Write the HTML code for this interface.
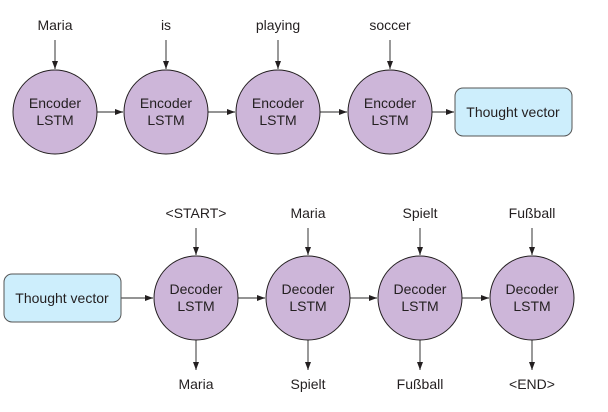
<!DOCTYPE html><html><head><style>body{margin:0;background:#fff}</style></head><body>
<svg width="608" height="407" xmlns="http://www.w3.org/2000/svg" font-family="Liberation Sans, Arial, sans-serif" font-size="14" fill="#231f20">
<defs><marker id="a" markerWidth="8" markerHeight="6" refX="8" refY="3" orient="auto" markerUnits="userSpaceOnUse"><path d="M0,0 L8,3 L0,6z" fill="#231f20"/></marker></defs>
<g stroke="#555" stroke-width="1.2" marker-end="url(#a)">
<line x1="55" y1="40" x2="55" y2="69"/><line x1="166" y1="40" x2="166" y2="69"/><line x1="278" y1="40" x2="278" y2="69"/><line x1="390" y1="40" x2="390" y2="69"/>
<line x1="97" y1="112" x2="123" y2="112"/><line x1="208" y1="112" x2="235" y2="112"/><line x1="320" y1="112" x2="347" y2="112"/><line x1="432" y1="112" x2="454" y2="112"/>
<line x1="196" y1="228" x2="196" y2="255"/><line x1="308" y1="228" x2="308" y2="255"/><line x1="420" y1="228" x2="420" y2="255"/><line x1="532" y1="228" x2="532" y2="255"/>
<line x1="121" y1="298" x2="153" y2="298"/><line x1="238" y1="298" x2="265" y2="298"/><line x1="350" y1="298" x2="377" y2="298"/><line x1="462" y1="298" x2="489" y2="298"/>
<line x1="196" y1="340" x2="196" y2="370"/><line x1="308" y1="340" x2="308" y2="370"/><line x1="420" y1="340" x2="420" y2="370"/><line x1="532" y1="340" x2="532" y2="370"/>
</g>
<g fill="#cdb6d9" stroke="#231f20" stroke-width="1">
<circle cx="55" cy="112" r="42"/><circle cx="166" cy="112" r="42"/><circle cx="278" cy="112" r="42"/><circle cx="390" cy="112" r="42"/>
<circle cx="196" cy="298" r="42"/><circle cx="308" cy="298" r="42"/><circle cx="420" cy="298" r="42"/><circle cx="532" cy="298" r="42"/>
</g>
<g fill="#cdeefc" stroke="#555" stroke-width="1">
<rect x="455" y="88" width="117" height="48" rx="8"/><rect x="4" y="274" width="117" height="48" rx="8"/>
</g>
<g text-anchor="middle">
<text x="55" y="30">Maria</text><text x="166" y="30">is</text><text x="278" y="30">playing</text><text x="390" y="30">soccer</text>
<text x="55" y="108">Encoder</text><text x="55" y="125">LSTM</text>
<text x="166" y="108">Encoder</text><text x="166" y="125">LSTM</text>
<text x="278" y="108">Encoder</text><text x="278" y="125">LSTM</text>
<text x="390" y="108">Encoder</text><text x="390" y="125">LSTM</text>
<text x="513" y="117">Thought vector</text><text x="62" y="303">Thought vector</text>
<text x="196" y="218">&lt;START&gt;</text><text x="308" y="218">Maria</text><text x="420" y="218">Spielt</text><text x="532" y="218">Fußball</text>
<text x="196" y="294">Decoder</text><text x="196" y="311">LSTM</text>
<text x="308" y="294">Decoder</text><text x="308" y="311">LSTM</text>
<text x="420" y="294">Decoder</text><text x="420" y="311">LSTM</text>
<text x="532" y="294">Decoder</text><text x="532" y="311">LSTM</text>
<text x="196" y="389">Maria</text><text x="308" y="389">Spielt</text><text x="420" y="389">Fußball</text><text x="532" y="389">&lt;END&gt;</text>
</g>
</svg></body></html>
